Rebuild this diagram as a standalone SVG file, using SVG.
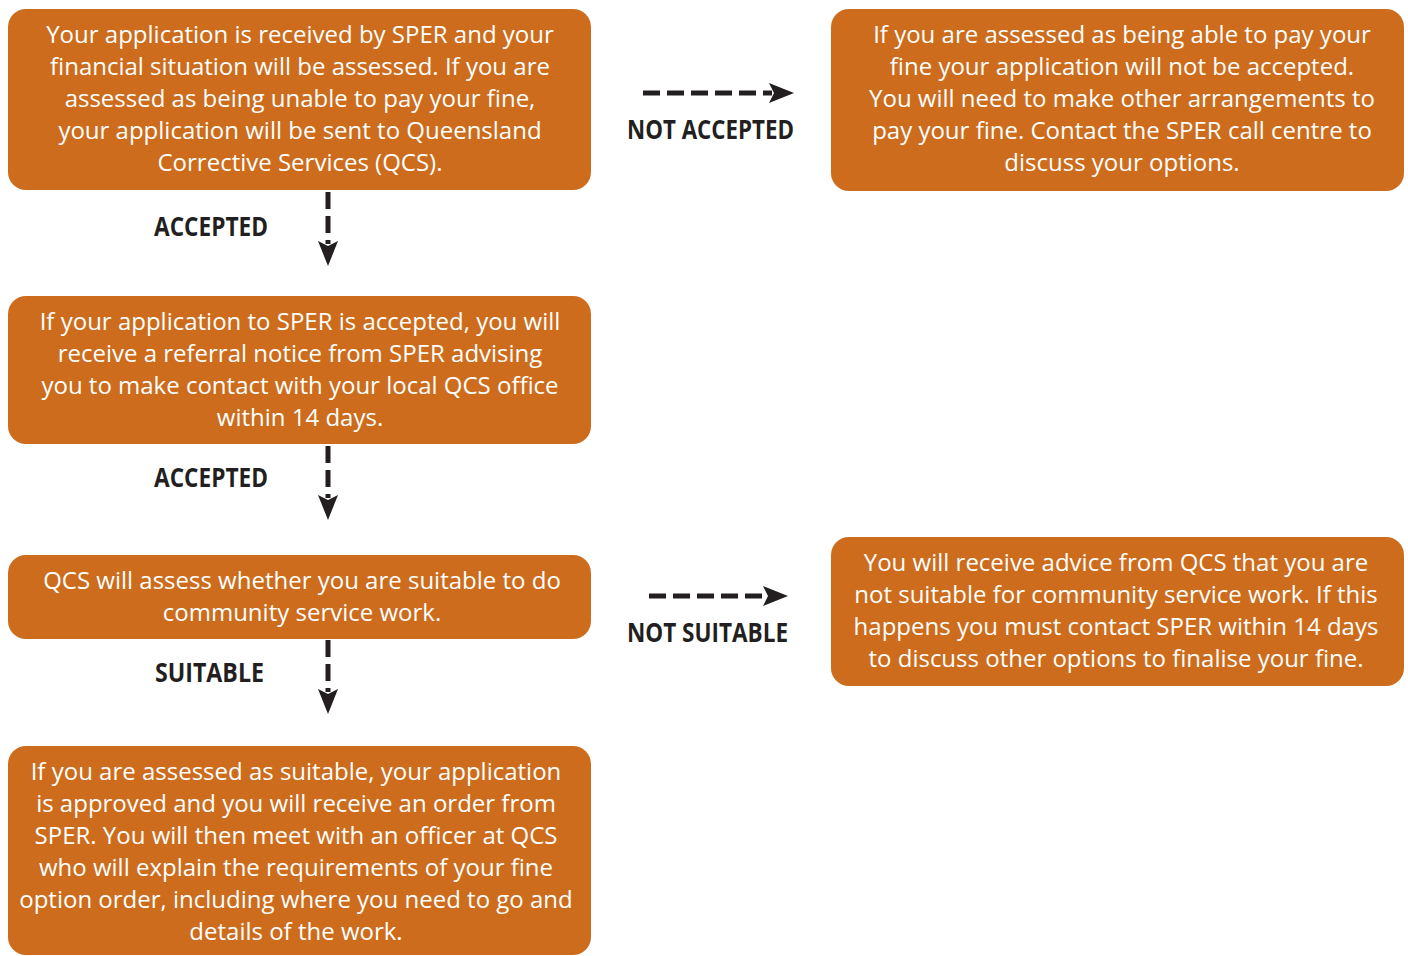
<svg xmlns="http://www.w3.org/2000/svg" width="1408" height="956" viewBox="0 0 1408 956">
<style>
.box{fill:#CD6C1C}
.t{font-family:"Open Sans","Liberation Sans",sans-serif;font-size:24px;fill:#FFFFFF;text-anchor:middle}
.lbl{font-family:"Open Sans","Liberation Sans",sans-serif;font-size:26px;font-weight:bold;fill:#231F20}
.dash{stroke:#231F20;stroke-width:5;stroke-dasharray:17 7;fill:none}
.head{fill:#231F20}
</style>
<rect width="1408" height="956" fill="#FFFFFF"/>
<g id="n1">
<rect class="box" x="8" y="9" width="583" height="181" rx="18"/>
<text class="t"><tspan x="300" y="43">Your application is received by SPER and your</tspan><tspan x="300" y="75">financial situation will be assessed. If you are</tspan><tspan x="300" y="107">assessed as being unable to pay your fine,</tspan><tspan x="300" y="139">your application will be sent to Queensland</tspan><tspan x="300" y="171">Corrective Services (QCS).</tspan></text>
</g>
<g id="n2">
<rect class="box" x="831" y="9" width="573" height="182" rx="18"/>
<text class="t"><tspan x="1122" y="43">If you are assessed as being able to pay your</tspan><tspan x="1122" y="75">fine your application will not be accepted.</tspan><tspan x="1122" y="107">You will need to make other arrangements to</tspan><tspan x="1122" y="139">pay your fine. Contact the SPER call centre to</tspan><tspan x="1122" y="171">discuss your options.</tspan></text>
</g>
<g id="n3">
<rect class="box" x="8" y="296" width="583" height="148" rx="18"/>
<text class="t"><tspan x="300" y="330">If your application to SPER is accepted, you will</tspan><tspan x="300" y="362">receive a referral notice from SPER advising</tspan><tspan x="300" y="394">you to make contact with your local QCS office</tspan><tspan x="300" y="426">within 14 days.</tspan></text>
</g>
<g id="n4">
<rect class="box" x="8" y="555" width="583" height="84" rx="18"/>
<text class="t"><tspan x="302" y="589">QCS will assess whether you are suitable to do</tspan><tspan x="302" y="621">community service work.</tspan></text>
</g>
<g id="n5">
<rect class="box" x="831" y="537" width="573" height="149" rx="18"/>
<text class="t"><tspan x="1116" y="571">You will receive advice from QCS that you are</tspan><tspan x="1116" y="603">not suitable for community service work. If this</tspan><tspan x="1116" y="635">happens you must contact SPER within 14 days</tspan><tspan x="1116" y="667">to discuss other options to finalise your fine.</tspan></text>
</g>
<g id="n6">
<rect class="box" x="8" y="746" width="583" height="209" rx="18"/>
<text class="t"><tspan x="296" y="780">If you are assessed as suitable, your application</tspan><tspan x="296" y="812">is approved and you will receive an order from</tspan><tspan x="296" y="844">SPER. You will then meet with an officer at QCS</tspan><tspan x="296" y="876">who will explain the requirements of your fine</tspan><tspan x="296" y="908">option order, including where you need to go and</tspan><tspan x="296" y="940">details of the work.</tspan></text>
</g>
<g id="connectors">
<line class="dash" x1="643" y1="93" x2="772" y2="93"/>
<polygon class="head" points="794,93 769,83 774,93 769,103"/>
<line class="dash" x1="649" y1="596" x2="766" y2="596"/>
<polygon class="head" points="788,596 763,586 768,596 763,606"/>
<line class="dash" x1="328" y1="192" x2="328" y2="244"/>
<polygon class="head" points="328,266 318,241 328,246 338,241"/>
<line class="dash" x1="328" y1="446" x2="328" y2="498"/>
<polygon class="head" points="328,520 318,495 328,500 338,495"/>
<line class="dash" x1="328" y1="640" x2="328" y2="692"/>
<polygon class="head" points="328,714 318,689 328,694 338,689"/>
<text class="lbl" x="627" y="139" textLength="167" lengthAdjust="spacingAndGlyphs">NOT ACCEPTED</text>
<text class="lbl" x="154" y="236" textLength="114" lengthAdjust="spacingAndGlyphs">ACCEPTED</text>
<text class="lbl" x="154" y="487" textLength="114" lengthAdjust="spacingAndGlyphs">ACCEPTED</text>
<text class="lbl" x="627" y="642" textLength="161" lengthAdjust="spacingAndGlyphs">NOT SUITABLE</text>
<text class="lbl" x="155" y="682" textLength="109" lengthAdjust="spacingAndGlyphs">SUITABLE</text>
</g>
</svg>
